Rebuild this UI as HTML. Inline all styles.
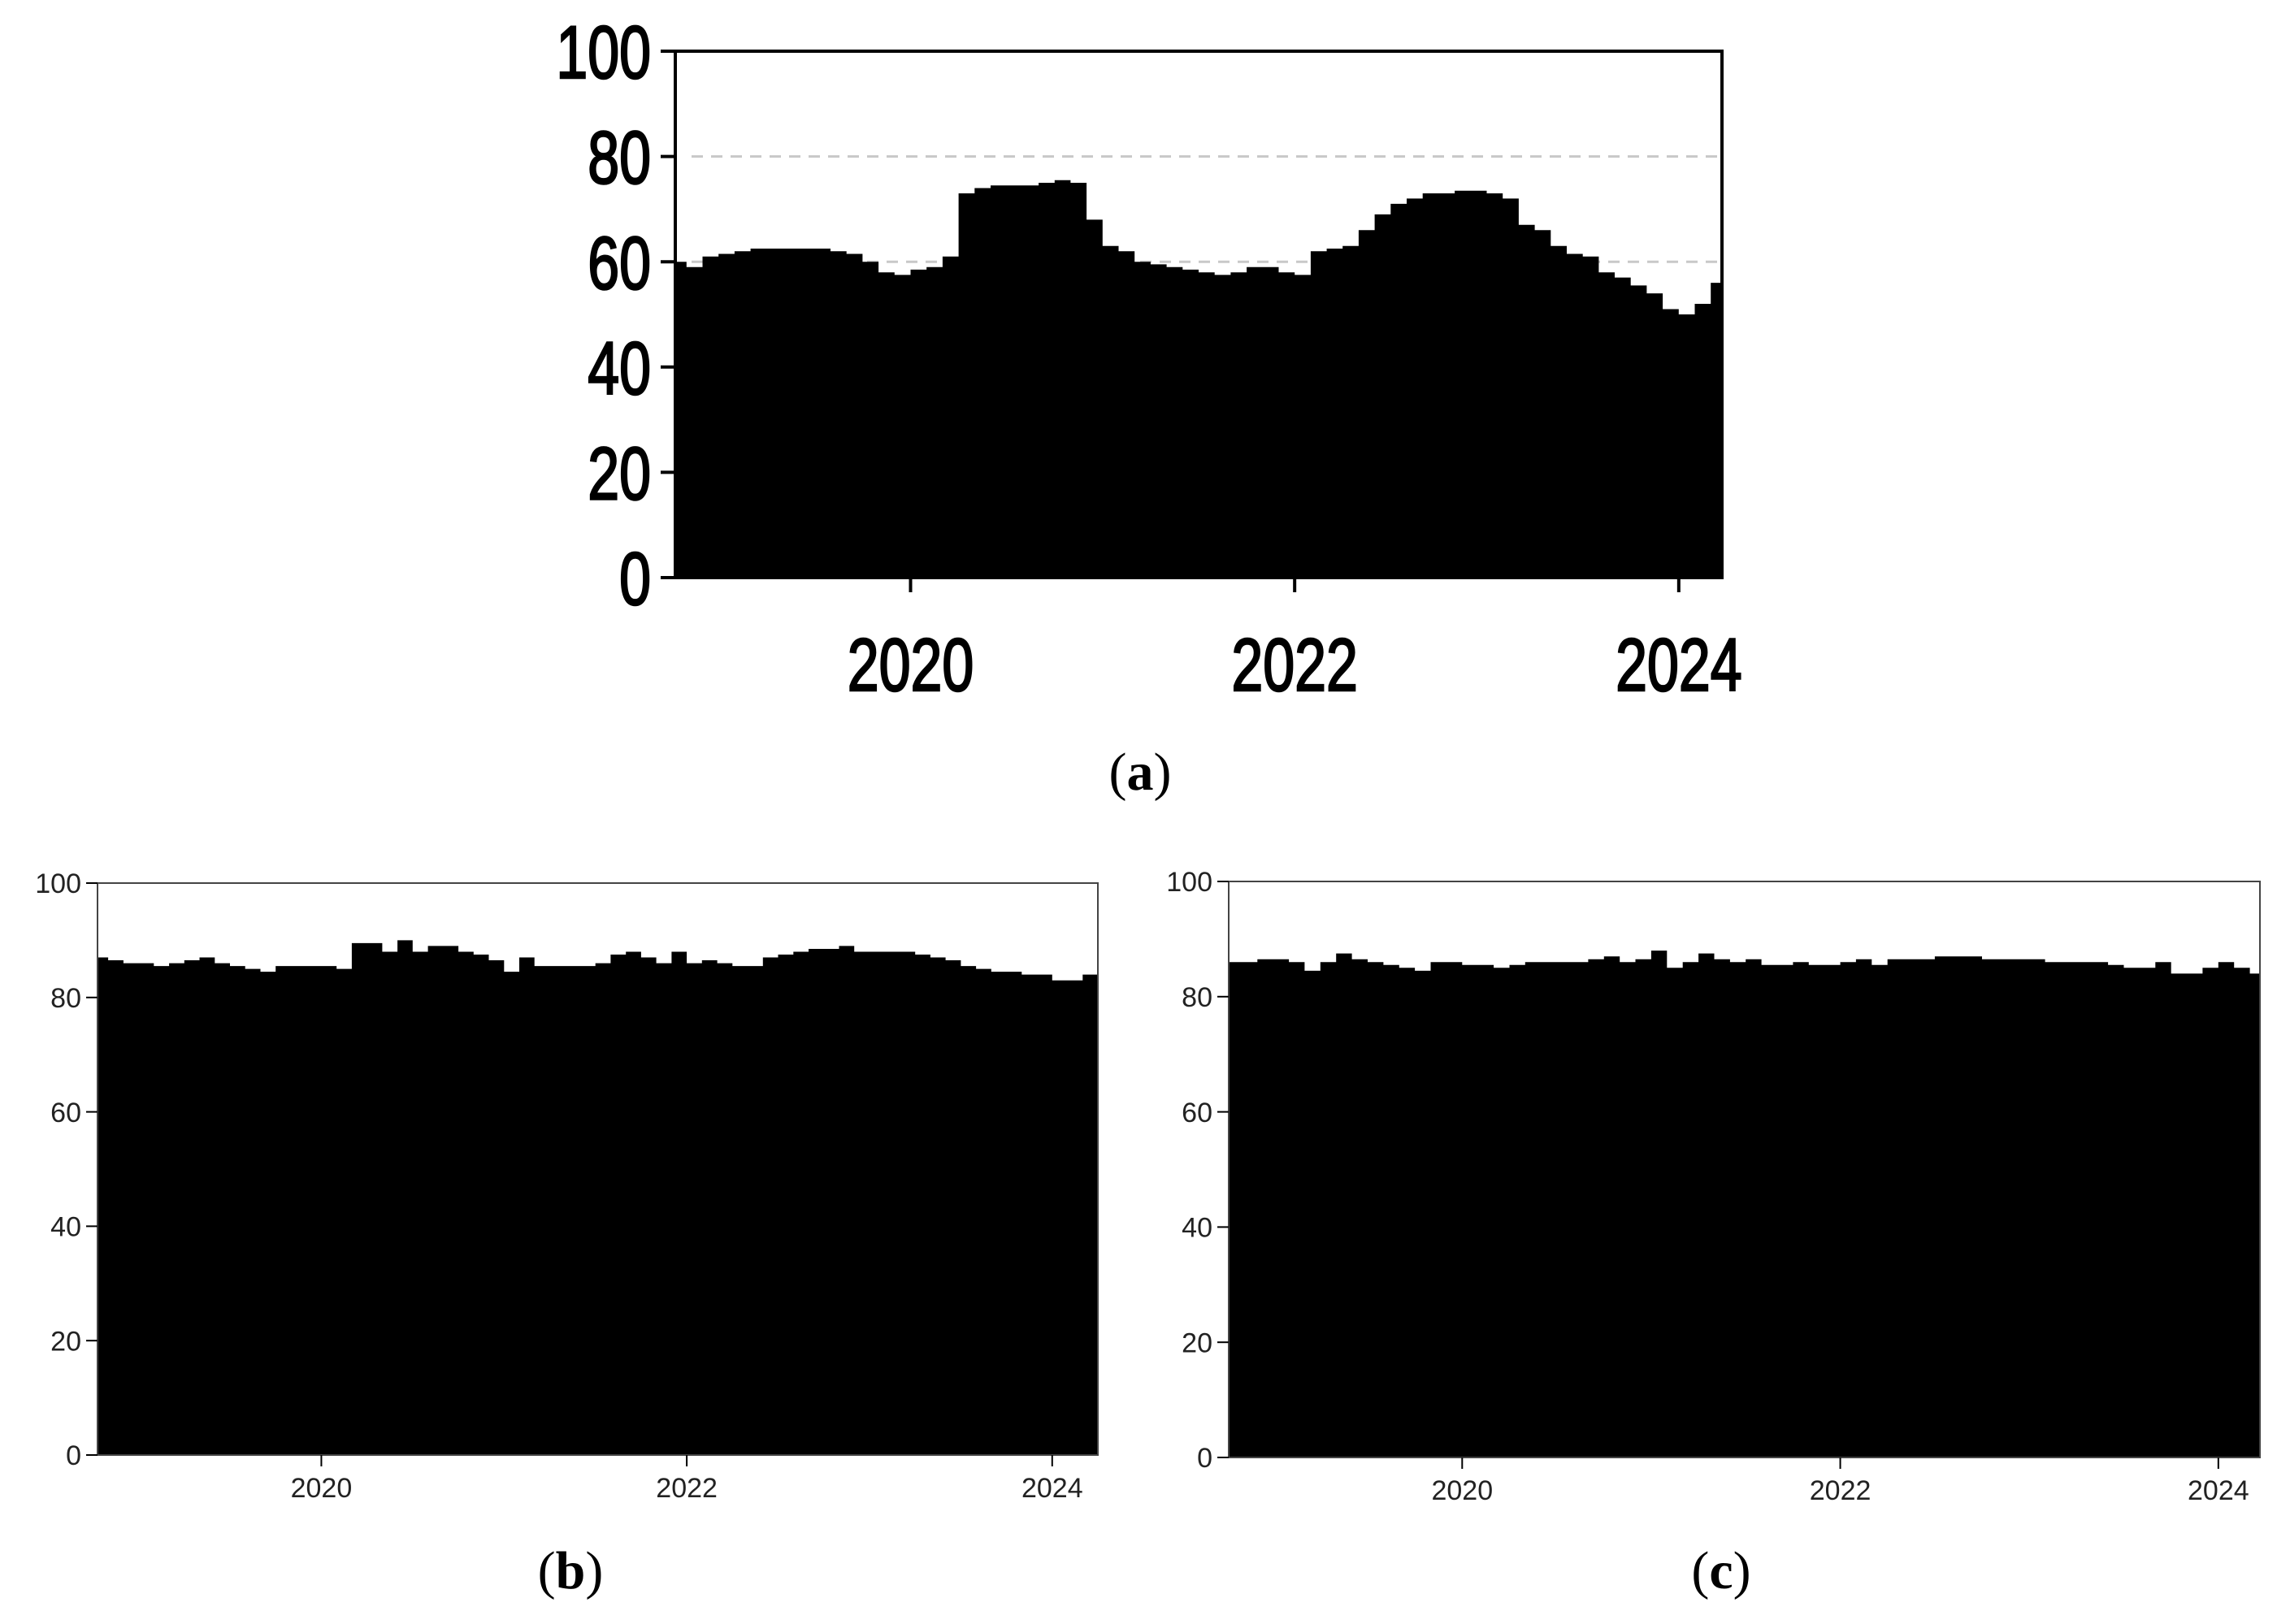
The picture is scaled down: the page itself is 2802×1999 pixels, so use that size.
<!DOCTYPE html>
<html><head><meta charset="utf-8"><style>
html,body{margin:0;padding:0;background:#fff;}
svg{display:block;}
</style></head><body>
<svg id="fig" width="2802" height="1999" viewBox="0 0 2802 1999" xmlns="http://www.w3.org/2000/svg">
<rect width="2802" height="1999" fill="#fff"/>
</svg>
<script>
// Monthly series, Oct 2018 .. Mar 2024
const startYear = 2018 + 9/12;
const xTicks = [2020, 2022, 2024];
const yTicks = [0, 20, 40, 60, 80, 100];
const seriesA = [60,59,61,
 61.5,62,62.5,62.5,62.5,62.5,62.5,62,61.5,60,58,57.5,
 58.5,59,61,73,74,74.5,74.5,74.5,75,75.5,75,68,
 63,62,60,59.5,59,58.5,58,57.5,58,59,59,58,
 57.5,62,62.5,63,66,69,71,72,73,73,73.5,73.5,
 73,72,67,66,63,61.5,61,58,57,55.5,54,51,
 50,52,56];
const seriesB = [87,86.5,86,
 86,85.5,86,86.5,87,86,85.5,85,84.5,85.5,85.5,85.5,
 85.5,85,89.5,89.5,88,90,88,89,89,88,87.5,86.5,
 84.5,87,85.5,85.5,85.5,85.5,86,87.5,88,87,86,88,
 86,86.5,86,85.5,85.5,87,87.5,88,88.5,88.5,89,88,
 88,88,88,87.5,87,86.5,85.5,85,84.5,84.5,84,84,
 83,83,84];
const seriesC = [86,86,86.5,
 86.5,86,84.5,86,87.5,86.5,86,85.5,85,84.5,86,86,
 85.5,85.5,85,85.5,86,86,86,86,86.5,87,86,86.5,
 88,85,86,87.5,86.5,86,86.5,85.5,85.5,86,85.5,85.5,
 86,86.5,85.5,86.5,86.5,86.5,87,87,87,86.5,86.5,86.5,
 86.5,86,86,86,86,85.5,85,85,86,84,84,85,
 86,85,84];
const gridA = [60, 80];

const NS = 'http://www.w3.org/2000/svg';
const svg = document.getElementById('fig');
function mk(tag, attrs, parent) {
  const e = document.createElementNS(NS, tag);
  for (const k in attrs) e.setAttribute(k, attrs[k]);
  (parent || svg).appendChild(e);
  return e;
}

function drawChart(id, c, values) {
  const g = mk('g', {});
  
  
  const x = yr => c.L + (yr - c.x0) / (c.x1 - c.x0) * (c.R - c.L);
  const y = v => c.B - v / 100 * (c.B - c.T);
  if (c.grid) {
    c.grid.forEach(v => {
      const gl = mk('line', {x1: c.L + 20, x2: c.R - 5, y1: y(v), y2: y(v), stroke: '#c8c8c8', 'stroke-width': 3, 'stroke-dasharray': '14,10'}, g);
      
      
    });
  }
  let d = 'M' + c.L + ',' + c.B;
  for (let i = 0; i < values.length; i++) {
    const xa = Math.max(c.L, x(startYear + i / 12));
    const xb = Math.min(c.R, x(startYear + (i + 1) / 12));
    d += ' L' + xa.toFixed(1) + ',' + y(values[i]).toFixed(1) + ' L' + xb.toFixed(1) + ',' + y(values[i]).toFixed(1);
  }
  d += ' L' + c.R + ',' + y(values[values.length - 1]).toFixed(1) + ' L' + c.R + ',' + c.B + ' Z';
  const area = mk('path', {d: d, fill: '#000'}, g);
  
  
  const frame = mk('rect', {x: c.L, y: c.T, width: c.R - c.L, height: c.B - c.T, fill: 'none', stroke: c.frameColor, 'stroke-width': c.sw}, g);
  
  
  yTicks.forEach(v => {
    const t = mk('line', {x1: c.L - c.tick, x2: c.L, y1: y(v), y2: y(v), stroke: '#000', 'stroke-width': c.sw}, g);
    
    
    const tx = mk('text', {transform: 'translate(' + (c.L - c.tick - c.gap) + ',' + (y(v) + c.fs * 0.36) + ') scale(' + c.sx + ',1)', 'text-anchor': 'end', 'font-family': 'Liberation Sans, sans-serif', 'font-size': c.fs, stroke: c.txt, 'stroke-width': c.ts, fill: c.txt}, g);
    tx.textContent = v;
    
    
  });
  xTicks.forEach(v => {
    const t = mk('line', {x1: x(v), x2: x(v), y1: c.B, y2: c.B + c.tick, stroke: '#000', 'stroke-width': c.sw}, g);
    
    
    const tx = mk('text', {transform: 'translate(' + x(v) + ',' + c.xl + ') scale(' + c.sx + ',1)', 'text-anchor': 'middle', 'font-family': 'Liberation Sans, sans-serif', 'font-size': c.fs, stroke: c.txt, 'stroke-width': c.ts, fill: c.txt}, g);
    tx.textContent = v;
    
    
  });
  const cap = mk('text', {x: c.capX, y: c.capY, 'text-anchor': 'middle', 'font-family': 'Liberation Serif, serif', 'font-size': 66, fill: '#000'}, g);
  cap.innerHTML = '(<tspan font-weight="bold">' + c.cap + '</tspan>)';
  
  
}

drawChart('chart-a', {L:831,R:2119,T:63,B:711,x0:2018.775,x1:2024.225,tick:18,gap:12,fs:92,ts:2.5,sx:0.76,xl:850,sw:4,frameColor:'#000',txt:'#000',grid:gridA,capX:1403,capY:972,cap:'a'}, seriesA);
drawChart('chart-b', {L:120,R:1351,T:1087,B:1791,x0:2018.775,x1:2024.25,tick:14,gap:6,fs:34,ts:0,sx:1,xl:1843,sw:2,frameColor:'#444',txt:'#222',grid:null,capX:702,capY:1955,cap:'b'}, seriesB);
drawChart('chart-c', {L:1512,R:2781,T:1085,B:1794,x0:2018.765,x1:2024.22,tick:14,gap:6,fs:34,ts:0,sx:1,xl:1846,sw:2,frameColor:'#444',txt:'#222',grid:null,capX:2118,capY:1955,cap:'c'}, seriesC);
</script>
</body></html>
